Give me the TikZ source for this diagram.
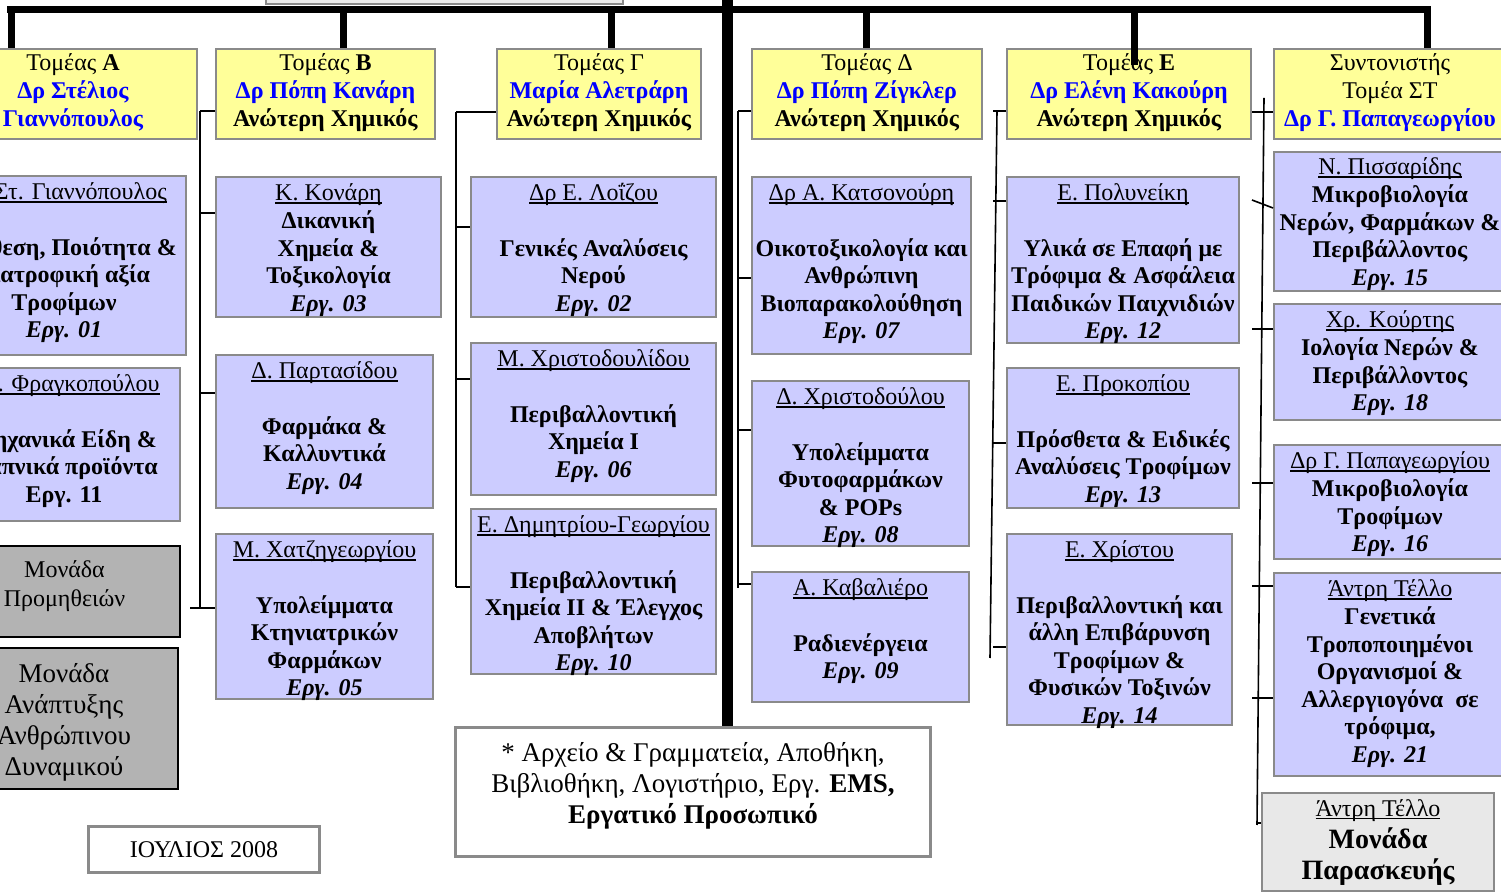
\documentclass[tikz,border=0pt]{standalone}
\usepackage{fontspec}
\setmainfont{Liberation Serif}
\usepackage{tikz}

\definecolor{hdrfill}{HTML}{FFFF99}
\definecolor{labfill}{HTML}{CCCCFF}
\definecolor{unitfill}{HTML}{B3B3B3}
\definecolor{prepfill}{HTML}{E8E8E8}
\definecolor{topfill}{HTML}{EBEBEB}
\definecolor{edge}{HTML}{8A8A8A}
\definecolor{headname}{HTML}{0000FF}

\newlength{\px}
\setlength{\px}{0.5pt}
\newcommand{\cell}[4][2.3pt]{\parbox[c][#3\px][t]{#2\px}{\centering\leftskip=-15pt plus 1fil\rightskip=-15pt plus 1fil\vspace*{#1}\strut#4}}
\newcommand{\hname}[1]{\textcolor{headname}{\textbf{#1}}}
\newcommand{\ul}[1]{\setbox0=\hbox{#1}\rlap{\rule[-1.3pt]{\wd0}{0.55pt}}\box0}

\begin{document}
\begin{tikzpicture}[x=0.5pt, y=-0.5pt, font=\fontsize{12}{13.8}\selectfont,
    box/.style={draw=edge, line width=1pt, inner sep=0pt, anchor=north west},
    hdr/.style={box, fill=hdrfill},
    lab/.style={box, fill=labfill},
    unit/.style={box, draw=black, fill=unitfill},
    prep/.style={box, fill=prepfill},
    frame/.style={box, fill=white, line width=1.5pt},
    bus/.style={line width=3.5pt},
    spine/.style={line width=5.5pt},
    wire/.style={line width=0.8pt}]
\useasboundingbox (0,0) rectangle (1501,892);

\node[box, fill=topfill, minimum width=357\px, minimum height=30\px, anchor=south west] (director) at (265,5) {};

% heads of sectors
\node[hdr] (hA) at (-52,48) {\cell[1.3pt]{248}{90}{Τομέας \textbf{Α}\\\hname{Δρ Στέλιος}\\\hname{Γιαννόπουλος}}};
\node[hdr] (hB) at (215,48) {\cell[1.3pt]{219}{90}{Τομέας \textbf{Β}\\\hname{Δρ Πόπη Κανάρη}\\\textbf{Ανώτερη Χημικός}}};
\node[hdr] (hG) at (496,48) {\cell[1.3pt]{204}{90}{Τομέας Γ\\\hname{Μαρία Αλετράρη}\\\textbf{Ανώτερη Χημικός}}};
\node[hdr] (hD) at (751,48) {\cell[1.3pt]{230}{90}{Τομέας Δ\\\hname{Δρ Πόπη Ζίγκλερ}\\\textbf{Ανώτερη Χημικός}}};
\node[hdr] (hE) at (1006,48) {\cell[1.3pt]{244}{90}{Τομέας \textbf{Ε}\\\hname{Δρ Ελένη Κακούρη}\\\textbf{Ανώτερη Χημικός}}};
\node[hdr] (hS) at (1273,48) {\cell[1.3pt]{232}{90}{Συντονιστής\\Τομέα ΣΤ\\\hname{Δρ Γ. Παπαγεωργίου}}};

% laboratories
\node[lab] (a1) at (-59,175) {\cell{244}{179}{\ul{Δρ Στ. Γιαννόπουλος}\\[\baselineskip]\bfseries Σύνθεση, Ποιότητα \&\\Διατροφική αξία\\Τροφίμων\\\textit{Εργ. 01}}};
\node[lab] (a2) at (-53,367) {\cell{232}{153}{\ul{Χρ. Φραγκοπούλου}\\[\baselineskip]\bfseries Μηχανικά Είδη \&\\Καπνικά προϊόντα\\Εργ. 11}};
\node[lab] (b1) at (215,176) {\cell{225}{140}{\ul{Κ. Κονάρη}\\\bfseries Δικανική\\Χημεία \&\\Τοξικολογία\\\textit{Εργ. 03}}};
\node[lab] (b2) at (215,354) {\cell{217}{153}{\ul{Δ. Παρτασίδου}\\[\baselineskip]\bfseries Φαρμάκα \&\\Καλλυντικά\\\textit{Εργ. 04}}};
\node[lab] (b3) at (215,533) {\cell{217}{165}{\ul{Μ. Χατζηγεωργίου}\\[\baselineskip]\bfseries Υπολείμματα\\Κτηνιατρικών\\Φαρμάκων\\\textit{Εργ. 05}}};
\node[lab] (g1) at (470,176) {\cell{245}{140}{\ul{Δρ Ε. Λοΐζου}\\[\baselineskip]\bfseries Γενικές Αναλύσεις\\Νερού\\\textit{Εργ. 02}}};
\node[lab] (g2) at (470,342) {\cell{245}{152}{\ul{Μ. Χριστοδουλίδου}\\[\baselineskip]\bfseries Περιβαλλοντική\\Χημεία Ι\\\textit{Εργ. 06}}};
\node[lab] (g3) at (470,508) {\cell{245}{165}{\ul{Ε. Δημητρίου-Γεωργίου}\\[\baselineskip]\bfseries Περιβαλλοντική\\Χημεία ΙΙ \& Έλεγχος\\Αποβλήτων\\\textit{Εργ. 10}}};
\node[lab] (d1) at (751,176) {\cell{219}{177}{\ul{Δρ Α. Κατσονούρη}\\[\baselineskip]\bfseries Οικοτοξικολογία και\\Ανθρώπινη\\Βιοπαρακολούθηση\\\textit{Εργ. 07}}};
\node[lab] (d2) at (751,380) {\cell{217}{165}{\ul{Δ. Χριστοδούλου}\\[\baselineskip]\bfseries Υπολείμματα\\Φυτοφαρμάκων\\\& POPs\\\textit{Εργ. 08}}};
\node[lab] (d3) at (751,571) {\cell{217}{130}{\ul{Α. Καβαλιέρο}\\[\baselineskip]\bfseries Ραδιενέργεια\\\textit{Εργ. 09}}};
\node[lab] (e1) at (1006,176) {\cell{232}{166}{\ul{Ε. Πολυνείκη}\\[\baselineskip]\bfseries Υλικά σε Επαφή με\\Τρόφιμα \& Ασφάλεια\\Παιδικών Παιχνιδιών\\\textit{Εργ. 12}}};
\node[lab] (e2) at (1006,367) {\cell{232}{140}{\ul{Ε. Προκοπίου}\\[\baselineskip]\bfseries Πρόσθετα \& Ειδικές\\Αναλύσεις Τροφίμων\\\textit{Εργ. 13}}};
\node[lab] (e3) at (1006,533) {\cell{225}{191}{\ul{Ε. Χρίστου}\\[\baselineskip]\bfseries Περιβαλλοντική και\\άλλη Επιβάρυνση\\Τροφίμων \&\\Φυσικών Τοξινών\\\textit{Εργ. 14}}};
\node[lab] (s1) at (1273,151) {\cell[1.8pt]{232}{139}{\ul{Ν. Πισσαρίδης}\\\bfseries Μικροβιολογία\\Νερών, Φαρμάκων \&\\Περιβάλλοντος\\\textit{Εργ. 15}}};
\node[lab] (s2) at (1273,303) {\cell{232}{116}{\ul{Χρ. Κούρτης}\\\bfseries Ιολογία Νερών \&\\Περιβάλλοντος\\\textit{Εργ. 18}}};
\node[lab] (s3) at (1273,444) {\cell{232}{114}{\ul{Δρ Γ. Παπαγεωργίου}\\\bfseries Μικροβιολογία\\Τροφίμων\\\textit{Εργ. 16}}};
\node[lab] (s4) at (1273,572) {\cell{232}{203}{\ul{Άντρη Τέλλο}\\\bfseries Γενετικά\\Τροποποιημένοι\\Οργανισμοί \&\\Αλλεργιογόνα\ \ σε\\τρόφιμα,\\\textit{Εργ. 21}}};
\node[prep] (s5) at (1261,792) {\cell[2.2pt]{232}{98}{\fontsize{14}{15.8}\selectfont{\fontsize{12}{15.8}\selectfont\ul{Άντρη Τέλλο}}\\\bfseries Μονάδα\\Παρασκευής}};

% units and notes
\node[unit] (u1) at (-52,545) {\cell[6.3pt]{231}{91}{\fontsize{12}{14.5}\selectfont Μονάδα\\Προμηθειών}};
\node[unit] (u2) at (-51,647) {\cell[7.6pt]{228}{141}{\fontsize{13.5}{15.5}\selectfont Μονάδα\\Ανάπτυξης\\Ανθρώπινου\\Δυναμικού}};
\node[frame] (note) at (454,726) {\cell[7.4pt]{475}{129}{\fontsize{13.5}{15.5}\selectfont * Αρχείο \& Γραμματεία, Αποθήκη,\\Βιβλιοθήκη, Λογιστήριο, Εργ. \textbf{EMS,}\\\textbf{Εργατικό Προσωπικό}}};
\node[frame, minimum width=231\px, minimum height=46\px] (date) at (87,825) {ΙΟΥΛΙΟΣ 2008};

% thick lines
\coordinate (spine) at (727,-5);
\draw[spine] (spine) -- (spine |- note.north);
\draw[bus] (7,10) -- (1431,10);
\foreach \x/\n in {11/hA, 343/hB, 611/hG, 866/hD, 1427/hS}
    \draw[bus] (\x,10) -- (\n.north -| \x,10);
\draw[bus] (1134,10) -- (1134,65);

% thin lines
\draw[wire] (200,111) -- (200,608);
\foreach \n/\y in {hB/111, b1/213, b2/393}
    \draw[wire] (200,\y) -- (\n.west |- 0,\y);
\draw[wire] (190,608) -- (b3.west |- 0,608);
\draw[wire] (456,112) -- (456,587);
\foreach \n/\y in {hG/112, g1/227, g2/379, g3/587}
    \draw[wire] (456,\y) -- (\n.west |- 0,\y);
\draw[wire] (738,111) -- (738,588);
\foreach \n/\y in {hD/111, d1/278, d2/430, d3/584}
    \draw[wire] (738,\y) -- (\n.west |- 0,\y);
\draw[wire] (997,111) -- (990,658);
\foreach \n/\y in {hE/111, e1/201, e2/443, e3/647}
    \draw[wire] (993,\y) -- (\n.west |- 0,\y);
\draw[wire] (1264,98) -- (1257,825);
\draw[wire] (hE.east |- 0,112) -- (hS.west |- 0,112);
\draw[wire] (1252,200) -- (s1.west |- 0,208);
\foreach \n/\y in {s2/329, s3/483, s4/586, s4/698}
    \draw[wire] (1252,\y) -- (\n.west |- 0,\y);
\draw[wire] (1257,823) -- (s5.west |- 0,823);
\end{tikzpicture}
\end{document}
